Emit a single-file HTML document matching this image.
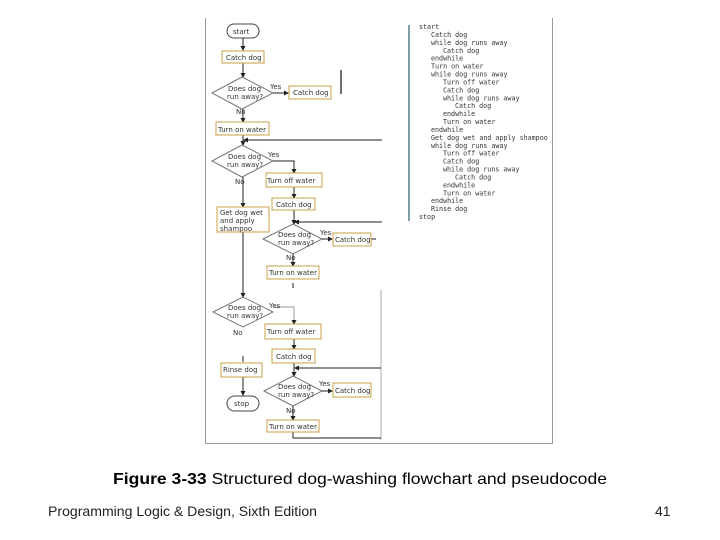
<!DOCTYPE html>
<html><head><meta charset="utf-8"><style>
html,body{margin:0;padding:0;background:#fff;width:720px;height:540px;overflow:hidden}
svg{display:block}
.f{font-family:"DejaVu Sans","Liberation Sans",sans-serif;font-size:7px;fill:#333}
.p{font-family:"DejaVu Sans Mono","Liberation Mono",monospace;font-size:6.7px;fill:#333}
</style></head><body>
<svg width="720" height="540" viewBox="0 0 720 540" xmlns="http://www.w3.org/2000/svg">
<defs><marker id="a" markerWidth="5" markerHeight="5" refX="4" refY="2.5" orient="auto"><path d="M0,0 L5,2.5 L0,5z" fill="#222"/></marker></defs>
<path d="M205.5 18 V443.5 H552.5 V18" fill="none" stroke="#999" stroke-width="1"/>
<g stroke="#222" stroke-width="1" fill="none">
<rect x="227" y="24" width="32" height="14" rx="7" stroke="#444"/>
<line x1="243" y1="38" x2="243" y2="50" marker-end="url(#a)"/>
<line x1="243" y1="63" x2="243" y2="77" marker-end="url(#a)"/>
<polygon points="212,93 242,77 273,93 242,109" stroke="#777"/>
<line x1="273" y1="93" x2="288" y2="93" marker-end="url(#a)"/>
<line x1="341" y1="70" x2="341" y2="94" stroke-width="1.3"/>
<line x1="243" y1="109" x2="243" y2="122" marker-end="url(#a)"/>
<line x1="243" y1="135" x2="243" y2="145" marker-end="url(#a)"/>
<line x1="382" y1="140" x2="244" y2="140" marker-end="url(#a)"/>
<polygon points="212,161 242,145 273,161 242,177" stroke="#777"/>
<polyline points="273,161 294,161 294,173" marker-end="url(#a)"/>
<line x1="294" y1="187" x2="294" y2="198" marker-end="url(#a)"/>
<line x1="243" y1="177" x2="243" y2="207" marker-end="url(#a)"/>
<line x1="294" y1="210" x2="294" y2="224" marker-end="url(#a)"/>
<line x1="382" y1="222" x2="295" y2="222" marker-end="url(#a)"/>
<polygon points="263,239 293,224 322,239 293,254" stroke="#777"/>
<line x1="322" y1="239" x2="332" y2="239" marker-end="url(#a)"/>
<line x1="371" y1="239" x2="376" y2="239"/>
<line x1="293" y1="254" x2="293" y2="266" marker-end="url(#a)"/>
<line x1="293" y1="283" x2="293" y2="288"/>
<line x1="243" y1="232" x2="243" y2="297" marker-end="url(#a)"/>
<line x1="381" y1="290" x2="381" y2="440" stroke="#aaa"/>
<polygon points="213,312 243,297 273,312 243,327" stroke="#777"/>
<polyline points="273,307 294,307 294,324" stroke="#999" marker-end="url(#a)"/>
<line x1="294" y1="339" x2="294" y2="349" marker-end="url(#a)"/>
<line x1="294" y1="363" x2="294" y2="376" marker-end="url(#a)"/>
<line x1="381" y1="368" x2="295" y2="368" marker-end="url(#a)"/>
<line x1="243" y1="356" x2="243" y2="362" />
<line x1="243" y1="377" x2="243" y2="395" marker-end="url(#a)"/>
<rect x="227" y="396" width="32" height="15" rx="7.5" stroke="#444"/>
<polygon points="264,391 293,376 322,391 293,406" stroke="#777"/>
<line x1="322" y1="391" x2="332" y2="391" marker-end="url(#a)"/>
<line x1="293" y1="406" x2="293" y2="420" marker-end="url(#a)"/>
<polyline points="293,432 293,438 381,438"/>
</g>
<g fill="#fff" stroke="#c9a24a" stroke-width="1">
<rect x="222" y="51" width="42" height="12"/>
<rect x="289" y="86" width="42" height="13"/>
<rect x="216" y="122" width="53" height="13"/>
<rect x="266" y="173" width="56" height="14"/>
<rect x="272" y="198" width="43" height="12"/>
<rect x="217" y="207" width="52" height="25"/>
<rect x="333" y="233" width="38" height="13"/>
<rect x="267" y="266" width="52" height="13"/>
<rect x="265" y="324" width="56" height="15"/>
<rect x="272" y="349" width="43" height="14"/>
<rect x="221" y="363" width="41" height="14"/>
<rect x="333" y="383" width="38" height="14"/>
<rect x="267" y="420" width="52" height="12"/>
</g>
<g class="f">
<text x="233" y="34">start</text>
<text x="226" y="60">Catch dog</text>
<text x="228" y="91">Does dog</text><text x="227" y="99">run away?</text>
<text x="270" y="89">Yes</text>
<text x="293" y="95">Catch dog</text>
<text x="236" y="114">No</text>
<text x="218" y="132">Turn on water</text>
<text x="228" y="159">Does dog</text><text x="227" y="167">run away?</text>
<text x="268" y="157">Yes</text>
<text x="235" y="184">No</text>
<text x="267" y="183">Turn off water</text>
<text x="276" y="207">Catch dog</text>
<text x="220" y="215">Get dog wet</text><text x="220" y="223">and apply</text><text x="220" y="231">shampoo</text>
<text x="278" y="237">Does dog</text><text x="278" y="245">run away?</text>
<text x="320" y="235">Yes</text>
<text x="335" y="242">Catch dog</text>
<text x="286" y="260">No</text>
<text x="269" y="275">Turn on water</text>
<text x="228" y="310">Does dog</text><text x="227" y="318">run away?</text>
<text x="269" y="308">Yes</text>
<text x="233" y="335">No</text>
<text x="267" y="334">Turn off water</text>
<text x="276" y="359">Catch dog</text>
<text x="223" y="372">Rinse dog</text>
<text x="234" y="406">stop</text>
<text x="278" y="389">Does dog</text><text x="278" y="397">run away?</text>
<text x="319" y="386">Yes</text>
<text x="335" y="393">Catch dog</text>
<text x="286" y="413">No</text>
<text x="269" y="429">Turn on water</text>
</g>
<line x1="409" y1="25" x2="409" y2="221" stroke="#2b5a6a" stroke-width="1.2"/>
<g class="p">
<text x="419" y="29">start</text>
<text x="431" y="36.9">Catch dog</text>
<text x="431" y="44.8">while dog runs away</text>
<text x="443" y="52.8">Catch dog</text>
<text x="431" y="60.7">endwhile</text>
<text x="431" y="68.6">Turn on water</text>
<text x="431" y="76.5">while dog runs away</text>
<text x="443" y="84.4">Turn off water</text>
<text x="443" y="92.3">Catch dog</text>
<text x="443" y="100.3">while dog runs away</text>
<text x="455" y="108.2">Catch dog</text>
<text x="443" y="116.1">endwhile</text>
<text x="443" y="124">Turn on water</text>
<text x="431" y="131.9">endwhile</text>
<text x="431" y="139.8">Get dog wet and apply shampoo</text>
<text x="431" y="147.8">while dog runs away</text>
<text x="443" y="155.7">Turn off water</text>
<text x="443" y="163.6">Catch dog</text>
<text x="443" y="171.5">while dog runs away</text>
<text x="455" y="179.4">Catch dog</text>
<text x="443" y="187.3">endwhile</text>
<text x="443" y="195.3">Turn on water</text>
<text x="431" y="203.2">endwhile</text>
<text x="431" y="211.1">Rinse dog</text>
<text x="419" y="219">stop</text>
</g>
<text x="113" y="484" font-family="Liberation Sans, sans-serif" font-size="16" fill="#000" textLength="494" lengthAdjust="spacingAndGlyphs"><tspan font-weight="bold">Figure 3-33</tspan> Structured dog-washing flowchart and pseudocode</text>
<text x="48" y="516" font-family="Liberation Sans, sans-serif" font-size="14" fill="#222" textLength="269" lengthAdjust="spacingAndGlyphs">Programming Logic &amp; Design, Sixth Edition</text>
<text x="655" y="516" font-family="Liberation Sans, sans-serif" font-size="14" fill="#222">41</text>
</svg>
</body></html>
